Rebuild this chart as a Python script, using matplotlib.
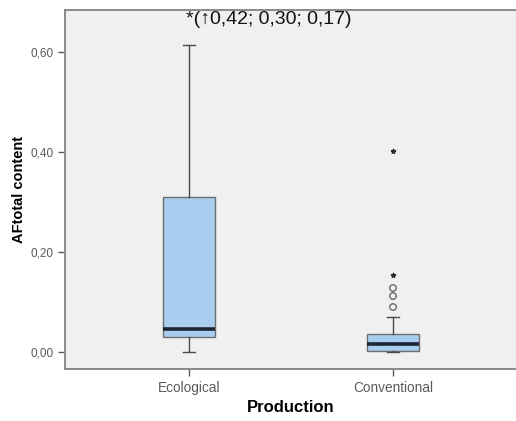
import matplotlib.pyplot as plt
from matplotlib.transforms import blended_transform_factory

# ---- data ----
groups = ["Ecological", "Conventional"]
q1 = [0.030, 0.002]
median = [0.046, 0.016]
q3 = [0.310, 0.036]
whislo = [0.000, 0.000]
whishi = [0.614, 0.070]

# outliers (circles) and extremes (stars) for Conventional
outlier_vals = [0.090, 0.112, 0.128]
extreme_vals = [0.154, 0.402]
outlier_group = 2

yticks = [0.0, 0.2, 0.4, 0.6]
ytick_labels = ["0,00", "0,20", "0,40", "0,60"]
note = "*(\u21910,42; 0,30; 0,17)"

plt.rcParams["font.family"] = ["Liberation Sans", "DejaVu Sans"]

fig = plt.figure(figsize=(5.16, 4.21), dpi=100)
ax = fig.add_axes([0.126, 0.1235, 0.874, 0.8525])
ax.set_facecolor("#f0f0f0")

stats = []
for i, g in enumerate(groups):
    stats.append({
        "label": g, "q1": q1[i], "med": median[i], "q3": q3[i],
        "whislo": whislo[i], "whishi": whishi[i], "fliers": [],
    })

ax.bxp(
    stats, positions=[1, 2], widths=0.255, showfliers=False,
    patch_artist=True, capwidths=0.06,
    boxprops=dict(facecolor="#a9cdee", edgecolor="#6e6e6e", linewidth=1.0),
    medianprops=dict(color="#1c2634", linewidth=2.6),
    whiskerprops=dict(color="#4a4a4a", linewidth=1.0),
    capprops=dict(color="#4a4a4a", linewidth=1.0),
)

ax.scatter([outlier_group] * len(outlier_vals), outlier_vals, s=22,
           facecolors="none", edgecolors="#6a6a6a", linewidths=1.0, zorder=3)
ax.scatter([outlier_group] * len(extreme_vals), extreme_vals, s=10,
           marker="*", color="#2a2a2a", zorder=3)

trans = blended_transform_factory(ax.transData, ax.transAxes)
ax.text(0.985, 0.975, note, transform=trans, ha="left", va="center",
        fontsize=14, color="#111111")

ax.set_xlim(0.392, 2.603)
ax.set_ylim(-0.034, 0.684)
ax.set_yticks(yticks)
ax.set_yticklabels(ytick_labels)
ax.set_xticks([1, 2])
ax.set_xticklabels(groups)

ax.tick_params(axis="y", colors="#5a5a5a", labelsize=8.5, length=5, width=1.0)
ax.tick_params(axis="x", colors="#5a5a5a", labelsize=9.8, length=5, width=1.0)

for side in ["left", "bottom", "top"]:
    ax.spines[side].set_color("#8a8a8a")
    ax.spines[side].set_linewidth(1.4)
ax.spines["right"].set_visible(False)

ax.set_xlabel("Production", fontsize=12, fontweight="bold", labelpad=4)
ax.set_ylabel("AFtotal content", fontsize=10.5, fontweight="bold", labelpad=3)

fig.savefig("out.png", dpi=100)
